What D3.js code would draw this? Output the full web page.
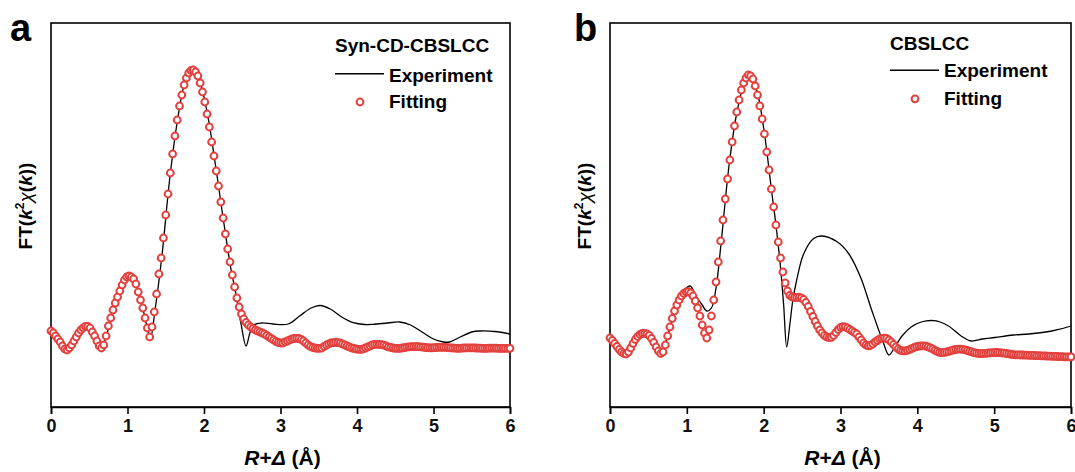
<!DOCTYPE html>
<html>
<head>
<meta charset="utf-8">
<script src="https://cdn.jsdelivr.net/npm/d3@7"></script>
<style>
  body { margin: 0; background: #fff; }
  svg { display: block; }
  text { font-family: "Liberation Sans", Arial, Helvetica, sans-serif; }
</style>
</head>
<body>
<svg id="chart" width="1075" height="472"></svg>
<script>
// ---- data ---------------------------------------------------------------
// R + Δ (Å) tick labels of the x axis
const xTicks = [0, 1, 2, 3, 4, 5, 6];

// R grid of the fitted spectra (0 to 6 Å, 0.03 Å step)
const fitR = d3.range(0, 201).map(i => +(i * 0.03).toFixed(2));

// Panel a: Syn-CD-CBSLCC, fitted |FT(k²χ(k))|
const fitA = [
  0.76, 0.74, 0.71, 0.68, 0.65, 0.61, 0.58, 0.57, 0.59, 0.62,
  0.66, 0.70, 0.74, 0.77, 0.79, 0.805, 0.805, 0.79, 0.75, 0.71,
  0.66, 0.61, 0.59, 0.62, 0.71, 0.81, 0.89, 0.97, 1.04, 1.10,
  1.16, 1.22, 1.27, 1.30, 1.31, 1.30, 1.28, 1.23, 1.15, 1.07,
  0.99, 0.89, 0.79, 0.70, 0.80, 0.95, 1.13, 1.33, 1.49, 1.69,
  1.92, 2.13, 2.34, 2.53, 2.71, 2.87, 3.01, 3.12, 3.22, 3.29,
  3.34, 3.365, 3.37, 3.35, 3.31, 3.24, 3.15, 3.05, 2.93, 2.80,
  2.65, 2.51, 2.36, 2.21, 2.05, 1.89, 1.73, 1.58, 1.45, 1.32,
  1.20, 1.09, 1.00, 0.93, 0.88, 0.845, 0.82, 0.80, 0.785, 0.77,
  0.76, 0.75, 0.74, 0.73, 0.715, 0.70, 0.685, 0.67, 0.655, 0.645,
  0.64, 0.64, 0.65, 0.66, 0.67, 0.68, 0.685, 0.687, 0.685, 0.675,
  0.66, 0.64, 0.62, 0.605, 0.595, 0.59, 0.587, 0.587, 0.59, 0.605,
  0.62, 0.63, 0.64, 0.643, 0.645, 0.643, 0.64, 0.63, 0.62, 0.61,
  0.60, 0.59, 0.585, 0.58, 0.577, 0.577, 0.58, 0.59, 0.60, 0.61,
  0.62, 0.625, 0.627, 0.627, 0.624, 0.618, 0.61, 0.602, 0.595, 0.59,
  0.587, 0.586, 0.587, 0.59, 0.594, 0.598, 0.601, 0.603, 0.604, 0.604,
  0.603, 0.601, 0.598, 0.595, 0.593, 0.592, 0.592, 0.593, 0.595, 0.596,
  0.597, 0.597, 0.596, 0.594, 0.592, 0.59, 0.588, 0.587, 0.587, 0.588,
  0.59, 0.591, 0.592, 0.592, 0.591, 0.59, 0.589, 0.588, 0.587, 0.587,
  0.587, 0.588, 0.589, 0.589, 0.588, 0.587, 0.587, 0.587, 0.587, 0.587,
  0.587
];

// Panel a: measured spectrum
const expAR = [0.00, 0.10, 0.21, 0.33, 0.47, 0.60, 0.66, 0.72, 0.85, 1.02,
  1.15, 1.25, 1.30, 1.36, 1.45, 1.55, 1.65, 1.75, 1.85, 1.95,
  2.05, 2.15, 2.25, 2.35, 2.42, 2.48, 2.55, 2.60, 2.65, 2.75,
  2.90, 3.10, 3.25, 3.40, 3.52, 3.65, 3.80, 3.95, 4.10, 4.21,
  4.40, 4.56, 4.70, 4.85, 5.00, 5.13, 5.21, 5.35, 5.50, 5.61,
  5.80, 6.00];
const expAV = [0.76, 0.67, 0.57, 0.70, 0.81, 0.66, 0.59, 0.70, 1.07, 1.32,
  1.13, 0.82, 0.69, 0.97, 1.51, 2.27, 2.85, 3.24, 3.37, 3.24,
  2.91, 2.42, 1.89, 1.39, 1.12, 0.85, 0.61, 0.74, 0.82, 0.84,
  0.83, 0.83, 0.91, 0.99, 1.015, 0.98, 0.90, 0.843, 0.825, 0.827,
  0.84, 0.85, 0.82, 0.75, 0.68, 0.65, 0.65, 0.70, 0.75, 0.76,
  0.755, 0.73];

// Panel b: CBSLCC, fitted |FT(k²χ(k))|
const fitB = [
  0.69, 0.665, 0.635, 0.605, 0.575, 0.55, 0.535, 0.53, 0.55, 0.59,
  0.635, 0.675, 0.705, 0.725, 0.735, 0.737, 0.732, 0.715, 0.685, 0.645,
  0.60, 0.56, 0.535, 0.55, 0.62, 0.71, 0.80, 0.885, 0.96, 1.02,
  1.07, 1.11, 1.135, 1.15, 1.153, 1.14, 1.11, 1.06, 0.99, 0.91,
  0.82, 0.74, 0.69, 0.77, 0.91, 1.07, 1.25, 1.45, 1.66, 1.87,
  2.08, 2.28, 2.47, 2.65, 2.81, 2.95, 3.07, 3.17, 3.24, 3.29,
  3.32, 3.31, 3.28, 3.21, 3.12, 3.01, 2.88, 2.73, 2.55, 2.37,
  2.18, 2.00, 1.82, 1.65, 1.49, 1.35, 1.24, 1.16, 1.115, 1.10,
  1.095, 1.095, 1.095, 1.09, 1.075, 1.045, 1.005, 0.955, 0.905, 0.855,
  0.81, 0.77, 0.74, 0.715, 0.70, 0.695, 0.697, 0.715, 0.745, 0.775,
  0.795, 0.803, 0.80, 0.79, 0.775, 0.76, 0.745, 0.73, 0.70, 0.67,
  0.64, 0.62, 0.612, 0.615, 0.63, 0.65, 0.665, 0.68, 0.687, 0.689,
  0.685, 0.67, 0.65, 0.625, 0.60, 0.58, 0.567, 0.561, 0.561, 0.567,
  0.575, 0.585, 0.595, 0.603, 0.609, 0.612, 0.612, 0.609, 0.602, 0.592,
  0.58, 0.567, 0.555, 0.547, 0.544, 0.545, 0.55, 0.556, 0.563, 0.57,
  0.575, 0.578, 0.578, 0.577, 0.572, 0.565, 0.557, 0.55, 0.543, 0.538,
  0.535, 0.534, 0.535, 0.537, 0.54, 0.542, 0.544, 0.545, 0.545, 0.544,
  0.542, 0.539, 0.535, 0.531, 0.527, 0.524, 0.522, 0.521, 0.52, 0.52,
  0.519, 0.518, 0.517, 0.516, 0.515, 0.514, 0.513, 0.512, 0.511, 0.51,
  0.509, 0.508, 0.507, 0.506, 0.505, 0.504, 0.503, 0.502, 0.502, 0.501,
  0.501
];

// Panel b: measured spectrum
const expBR = [0.00, 0.10, 0.21, 0.33, 0.46, 0.60, 0.67, 0.75, 0.90, 1.04,
  1.12, 1.20, 1.26, 1.32, 1.38, 1.45, 1.55, 1.65, 1.75, 1.80,
  1.90, 2.00, 2.10, 2.16, 2.22, 2.26, 2.30, 2.34, 2.38, 2.43,
  2.52, 2.65, 2.76, 2.96, 3.11, 3.26, 3.41, 3.55, 3.63, 3.70,
  3.80, 3.92, 4.05, 4.22, 4.40, 4.57, 4.70, 4.85, 5.01, 5.25,
  5.45, 5.75, 6.00];
const expBV = [0.69, 0.60, 0.53, 0.68, 0.74, 0.60, 0.54, 0.71, 1.08, 1.21,
  1.11, 1.02, 0.96, 0.99, 1.19, 1.67, 2.42, 2.94, 3.25, 3.32,
  3.19, 2.79, 2.18, 1.82, 1.39, 1.02, 0.60, 0.82, 1.07, 1.27,
  1.53, 1.685, 1.71, 1.65, 1.53, 1.30, 0.96, 0.66, 0.52, 0.59,
  0.71, 0.80, 0.85, 0.863, 0.813, 0.71, 0.66, 0.68, 0.695, 0.72,
  0.73, 0.76, 0.81];

// ---- layout -------------------------------------------------------------
const panels = [
  { tag: "a", sample: "Syn-CD-CBSLCC", left: 51, right: 510,
    fit: fitA, expR: expAR, expV: expAV,
    legX: 335, legY: [52, 73.7, 81.7, 102, 108], tagX: 10 },
  { tag: "b", sample: "CBSLCC", left: 610, right: 1071,
    fit: fitB, expR: expBR, expV: expBV,
    legX: 890, legY: [49.7, 70.3, 77.2, 98.8, 104.6], tagX: 574 }
];
const plotTop = 23, plotBottom = 407;
const red = "#e3403d";

const svg = d3.select("#chart");

panels.forEach(p => {
  const x = d3.scaleLinear().domain([0, 6]).range([p.left, p.right]);
  const y = d3.scaleLinear().domain([0, 3.84]).range([plotBottom, plotTop]);
  const g = svg.append("g");

  // plot frame
  g.append("rect")
    .attr("x", p.left).attr("y", plotTop)
    .attr("width", p.right - p.left).attr("height", plotBottom - plotTop)
    .attr("fill", "none").attr("stroke", "#000").attr("stroke-width", 1.6);

  // x axis
  const ax = g.append("g")
    .attr("transform", `translate(0,${plotBottom})`)
    .call(d3.axisBottom(x).tickValues(xTicks).tickFormat(d3.format("d"))
      .tickSize(7).tickPadding(5));
  ax.select(".domain").attr("stroke-width", 1.6);
  ax.selectAll(".tick line").attr("stroke-width", 1.6);
  ax.selectAll(".tick text")
    .attr("font-size", 18).attr("font-weight", "bold")
    .attr("font-family", "'Liberation Sans', Arial, sans-serif")
    .attr("fill", "#111");

  // measured curve
  const pts = p.expR.map((r, i) => [r, p.expV[i]]);
  g.append("path")
    .datum(pts)
    .attr("fill", "none").attr("stroke", "#000").attr("stroke-width", 1.3)
    .attr("d", d3.line().x(d => x(d[0])).y(d => y(d[1])).curve(d3.curveCatmullRom.alpha(0.5)));

  // fitted points
  g.append("g").selectAll("circle")
    .data(fitR.map((r, i) => [r, p.fit[i]]))
    .join("circle")
    .attr("cx", d => x(d[0])).attr("cy", d => y(d[1]))
    .attr("r", 3.4)
    .attr("fill", "#fff").attr("stroke", red).attr("stroke-width", 2);

  // legend
  const L = p.legY;
  g.append("text").attr("x", p.legX).attr("y", L[0])
    .attr("font-size", 19).attr("font-weight", "bold").text(p.sample);
  g.append("line")
    .attr("x1", p.legX).attr("x2", p.legX + 49)
    .attr("y1", L[1]).attr("y2", L[1])
    .attr("stroke", "#000").attr("stroke-width", 1.5);
  g.append("text").attr("x", p.legX + 54).attr("y", L[2])
    .attr("font-size", 19).attr("font-weight", "bold").text("Experiment");
  g.append("circle").attr("cx", p.legX + 25).attr("cy", L[3]).attr("r", 3.4)
    .attr("fill", "#fff").attr("stroke", red).attr("stroke-width", 2);
  g.append("text").attr("x", p.legX + 54).attr("y", L[4])
    .attr("font-size", 19).attr("font-weight", "bold").text("Fitting");

  // panel tag
  g.append("text").attr("x", p.tagX).attr("y", 41)
    .attr("font-size", 38).attr("font-weight", "bold").text(p.tag);

  // x title: R+Δ (Å)
  const xt = g.append("text")
    .attr("x", (p.left + p.right) / 2 + 2).attr("y", 465)
    .attr("text-anchor", "middle")
    .attr("font-size", 21).attr("font-weight", "bold");
  xt.append("tspan").attr("font-style", "italic").text("R");
  xt.append("tspan").text("+");
  xt.append("tspan").attr("font-style", "italic").text("Δ");
  xt.append("tspan").text(" (Å)");

  // y title: FT(k²χ(k))
  const yt = g.append("text")
    .attr("transform", `translate(${p.left - 19},206) rotate(-90)`)
    .attr("text-anchor", "middle")
    .attr("font-size", 19).attr("font-weight", "bold");
  yt.append("tspan").text("FT(");
  yt.append("tspan").attr("font-style", "italic").text("k");
  yt.append("tspan").attr("font-size", 12).attr("dy", -8).text("2");
  yt.append("tspan").attr("font-style", "italic").attr("font-weight", "normal").attr("dy", 8).text("χ");
  yt.append("tspan").text("(");
  yt.append("tspan").attr("font-style", "italic").text("k");
  yt.append("tspan").text("))");
});
</script>
</body>
</html>
